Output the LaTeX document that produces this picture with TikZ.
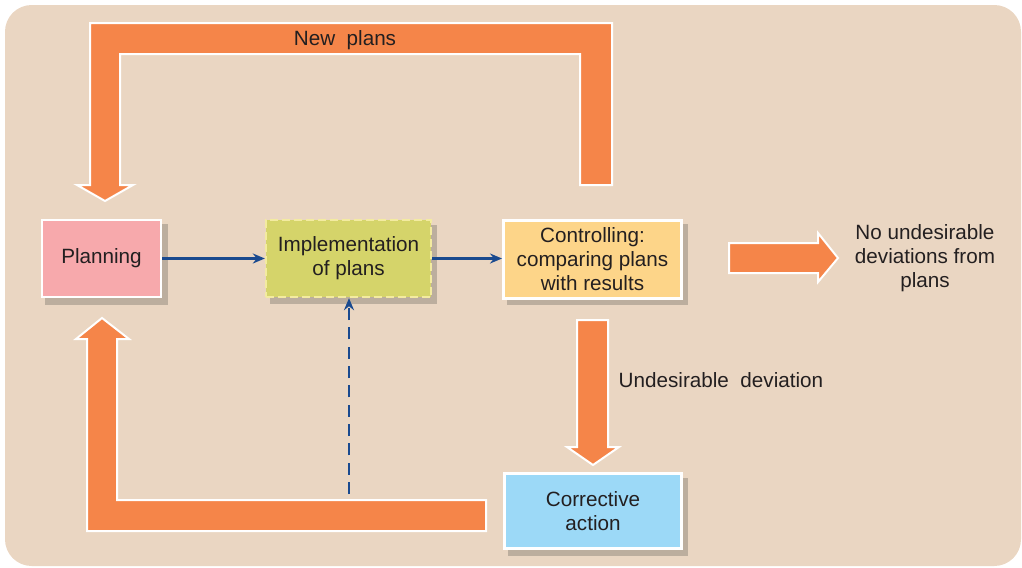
\documentclass[tikz,border=0pt]{standalone}
\usepackage{fontspec}
\setmainfont{Liberation Sans}
\usetikzlibrary{arrows.meta}
\definecolor{bgc}{HTML}{EAD6C2}
\definecolor{orng}{HTML}{F58549}
\definecolor{pinkc}{HTML}{F7A9AC}
\definecolor{olivec}{HTML}{D5D46A}
\definecolor{olivebd}{HTML}{F3EBA0}
\definecolor{yelc}{HTML}{FDD589}
\definecolor{bluec}{HTML}{9CD9F7}
\definecolor{darkblue}{HTML}{1A4A8F}
\definecolor{shadowc}{HTML}{BCAE9E}
\definecolor{txt}{HTML}{231F20}
\tikzset{
  base/.style={font=\fontsize{15.5}{18}\selectfont, text=txt, align=center},
  box/.style={base, draw=white, line width=2.2pt, inner sep=0pt},
  fat/.style={fill=orng, draw=white, line width=1.5pt, line join=miter},
  link/.style={draw=darkblue, line width=2pt, -{Stealth[length=9pt,width=7.5pt]}},
  lbl/.style={base}
}
\begin{document}
\begin{tikzpicture}[x=0.75pt,y=-0.75pt]
\useasboundingbox (0,0) rectangle (1022,568);
\fill[bgc, rounded corners=20pt] (5,5) rectangle (1021,566);

% shadows
\fill[shadowc] (45,224) rectangle (168,305);
\fill[shadowc] (270,225) rectangle (437,304);
\fill[shadowc] (507,224) rectangle (688,305);
\fill[shadowc] (508,478) rectangle (688,556);

% fat arrows
\draw[fat] (612,185) -- (612,23) -- (90,23) -- (90,185) -- (77,185) -- (105,201)
  -- (133,185) -- (120,185) -- (120,54) -- (580,54) -- (580,185) -- cycle;
\draw[fat] (486,500) -- (117,500) -- (117,339) -- (129,339) -- (102,318)
  -- (76,339) -- (87,339) -- (87,531) -- (486,531) -- cycle;
\draw[fat] (577,320) -- (608,320) -- (608,447) -- (619,447) -- (593,465)
  -- (567,447) -- (577,447) -- cycle;
\draw[fat] (729,243) -- (818,243) -- (818,233) -- (838,258) -- (818,282)
  -- (818,273) -- (729,273) -- cycle;

% nodes
\node[box, fill=pinkc, minimum width=89.25pt, minimum height=57.75pt] (plan) at (101.5,258.5) {Planning};
\node[box, fill=olivec, draw=olivebd, dashed, dash pattern=on 6pt off 3pt, line width=1.5pt,
  minimum width=124pt, minimum height=58pt] (impl) at (348.5,258.5) {Implementation\\of plans};
\node[box, fill=yelc, minimum width=133.5pt, minimum height=58.5pt] (ctrl) at (592.5,259.5) {Controlling:\\comparing plans\\with results};
\node[box, fill=bluec, minimum width=132.75pt, minimum height=56.25pt] (corr) at (593,511) {Corrective\\action};

% labels
\node[lbl] (newplans) at (345,40) {New\ \ plans};
\node[lbl] (nodev) at (925,258.5) {No undesirable\\deviations from\\plans};
\node[lbl, anchor=west] (undev) at (614,380) {Undesirable\ \ deviation};

% connectors
\draw[link] (plan.east) -- (impl.west);
\draw[link] (impl.east) -- (ctrl.west |- impl.east);
\coordinate (dstart) at (349,494);
\draw[link, dashed, dash pattern=on 9pt off 5.5pt] (dstart) -- (dstart |- impl.south);
\end{tikzpicture}
\end{document}
